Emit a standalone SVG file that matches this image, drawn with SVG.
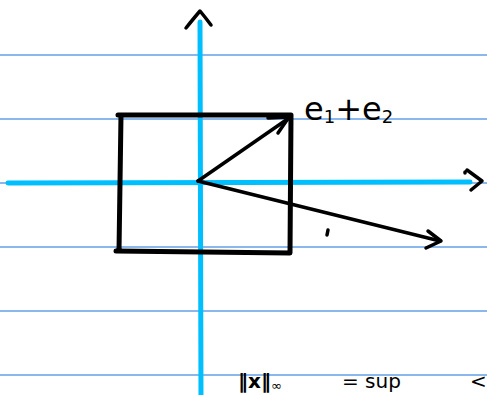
<svg xmlns="http://www.w3.org/2000/svg" width="487" height="395" viewBox="0 0 487 395">
<style>
.rule{stroke:#4a90e2;stroke-width:1.3;opacity:0.85}
.axis{stroke:#00bfff;stroke-width:5;stroke-linecap:round;fill:none}
.ink{stroke:#000;stroke-width:5;stroke-linecap:round;stroke-linejoin:round;fill:none}
.pen{stroke:#000;stroke-width:3.5;stroke-linecap:round;stroke-linejoin:round;fill:none}
.hand{font-family:"DejaVu Sans",sans-serif;fill:#000}
</style>
<rect width="487" height="395" fill="#fff"/>
<g id="rules">
<line class="rule" x1="0" y1="55" x2="487" y2="55"/>
<line class="rule" x1="0" y1="119" x2="487" y2="119"/>
<line class="rule" x1="0" y1="183" x2="487" y2="183"/>
<line class="rule" x1="0" y1="247" x2="487" y2="247"/>
<line class="rule" x1="0" y1="311" x2="487" y2="311"/>
<line class="rule" x1="0" y1="375" x2="487" y2="375"/>
</g>
<g id="axes">
<line class="axis" x1="8" y1="183" x2="470" y2="182"/>
<line class="axis" x1="200" y1="22" x2="201" y2="397"/>
<path class="pen" d="M186 28 Q194 18 200 11 Q205 17 211 25"/>
<path class="pen" d="M465 172 L465 173 M467 170 L482 181 L471 190"/>
</g>
<g id="square">
<path class="ink" d="M118 115 L291 115 L290 253 L116 251 M121 115 L119 251"/>
</g>
<g id="connectors">
<path class="pen" d="M198 181 L289 118"/>
<path class="pen" d="M268 118 L289 117 L278 133"/>
<path class="pen" d="M198 181 L440 241"/>
<path class="pen" d="M428 231 L441 241 L426 248"/>
<path class="pen" d="M328 230 L327 235"/>
</g>
<g id="labels">
<text class="hand" x="304" y="120" font-size="32">e<tspan font-size="18" dy="3">1</tspan><tspan dy="-3">+</tspan>e<tspan font-size="18" dy="3">2</tspan></text>
<text class="hand" x="238" y="388" font-size="20" font-weight="bold">‖x‖<tspan font-size="13" font-weight="normal" dy="2">∞</tspan></text>
<text class="hand" x="342" y="388" font-size="20">= sup</text>
<text class="hand" x="470" y="388" font-size="20">&lt;</text>
</g>
</svg>
